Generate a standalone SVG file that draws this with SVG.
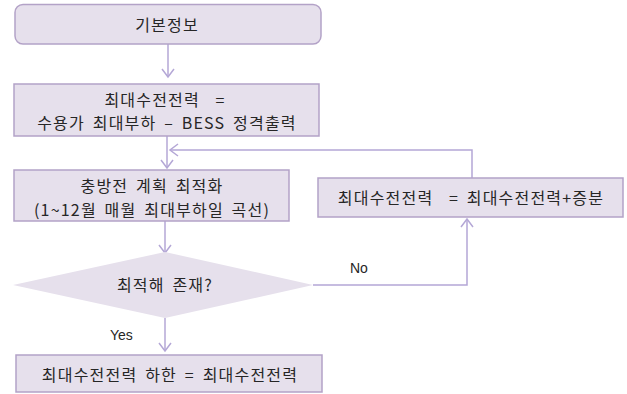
<svg xmlns="http://www.w3.org/2000/svg" width="627" height="394" viewBox="0 0 627 394">
<defs>
<style>
.box{fill:#e6e0ec;stroke:#b3a2c7;stroke-width:1.5}
.t{font-family:"Noto Sans CJK KR","Malgun Gothic",sans-serif;font-size:16px;word-spacing:3px;letter-spacing:1.2px;fill:#262626;text-anchor:middle;dominant-baseline:central}
.lbl{font-family:"Liberation Sans",Arial,sans-serif;font-size:14px;fill:#262626}
.c{fill:none;stroke:#b4a7d6;stroke-width:1.5}
</style>
<marker id="ah" markerUnits="userSpaceOnUse" markerWidth="12" markerHeight="14" viewBox="-10 -7 12 14" refX="0" refY="0" orient="auto">
<path d="M-8,-6 L0,0 L-8,6" fill="none" stroke="#b4a7d6" stroke-width="1.5"/>
</marker>
</defs>
<g id="connectors">
<path class="c" d="M168,44 V77" marker-end="url(#ah)"/>
<path class="c" d="M167,136 V168" marker-end="url(#ah)"/>
<path class="c" d="M472,178 V150 H170" marker-end="url(#ah)"/>
<path class="c" d="M165,221 V253" marker-end="url(#ah)"/>
<path class="c" d="M165,318 V351" marker-end="url(#ah)"/>
<path class="c" d="M313,285 H467 V219" marker-end="url(#ah)"/>
<text class="lbl" x="350" y="273">No</text>
<text class="lbl" x="110" y="340">Yes</text>
</g>
<g id="n1">
<rect class="box" x="15" y="4.5" width="306" height="39.5" rx="8"/>
<text class="t" x="167" y="24">기본정보</text>
</g>
<g id="n2">
<rect class="box" x="14" y="84" width="305" height="52"/>
<text class="t" x="165" y="99" xml:space="preserve">최대수전전력  =</text>
<text class="t" x="167" y="122">수용가 최대부하 – BESS 정격출력</text>
</g>
<g id="n3">
<rect class="box" x="14" y="170" width="275" height="51"/>
<text class="t" x="152" y="185">충방전 계획 최적화</text>
<text class="t" x="152" y="208.5">(1~12월 매월 최대부하일 곡선)</text>
</g>
<g id="n4">
<polygon points="13,285 165,252 313,285 165,318" fill="#e6e0ec"/>
<text class="t" x="165" y="284">최적해 존재?</text>
</g>
<g id="n5">
<rect class="box" x="318" y="178" width="305" height="39"/>
<text class="t" x="471" y="197" xml:space="preserve">최대수전전력  = 최대수전전력+증분</text>
</g>
<g id="n6">
<rect class="box" x="16" y="355" width="306" height="37"/>
<text class="t" x="170" y="374">최대수전전력 하한 = 최대수전전력</text>
</g>
</svg>
